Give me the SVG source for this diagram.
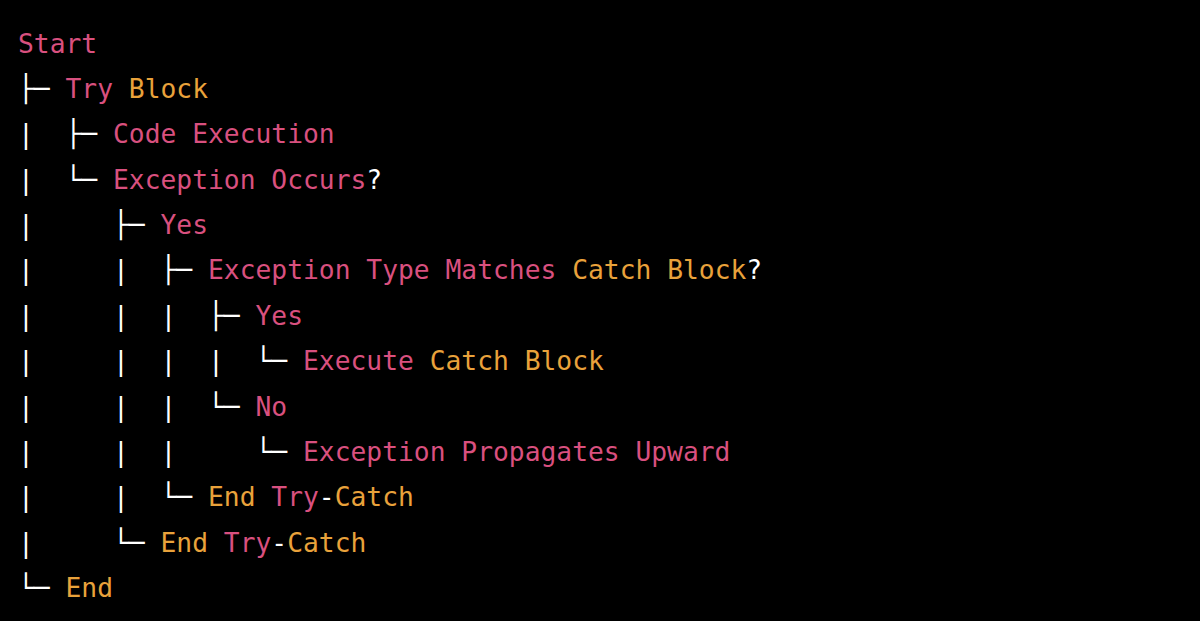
<svg xmlns="http://www.w3.org/2000/svg" width="1200" height="621" viewBox="0 0 1200 621">
<style>
text{font-family:"DejaVu Sans Mono","Liberation Mono",monospace;font-size:26.3px;white-space:pre}
.w{fill:#ffffff}.p{fill:#d9507f}.o{fill:#e9a23b}
</style>
<rect width="1200" height="621" fill="#000000"/>
<g id="tree" xml:space="preserve">
<g id="n1"><text x="18" y="52.5"><tspan class="p">Start</tspan></text></g>
<g id="n2"><text x="18" y="97.9"><tspan class="w">├─ </tspan><tspan class="p">Try</tspan><tspan class="w"> </tspan><tspan class="o">Block</tspan></text></g>
<g id="n3"><text x="18" y="143.3"><tspan class="w">|  ├─ </tspan><tspan class="p">Code Execution</tspan></text></g>
<g id="n4"><text x="18" y="188.6"><tspan class="w">|  └─ </tspan><tspan class="p">Exception Occurs</tspan><tspan class="w">?</tspan></text></g>
<g id="n5"><text x="18" y="234"><tspan class="w">|     ├─ </tspan><tspan class="p">Yes</tspan></text></g>
<g id="n6"><text x="18" y="279.4"><tspan class="w">|     |  ├─ </tspan><tspan class="p">Exception Type Matches </tspan><tspan class="o">Catch Block</tspan><tspan class="w">?</tspan></text></g>
<g id="n7"><text x="18" y="324.8"><tspan class="w">|     |  |  ├─ </tspan><tspan class="p">Yes</tspan></text></g>
<g id="n8"><text x="18" y="370.1"><tspan class="w">|     |  |  |  └─ </tspan><tspan class="p">Execute </tspan><tspan class="o">Catch Block</tspan></text></g>
<g id="n9"><text x="18" y="415.5"><tspan class="w">|     |  |  └─ </tspan><tspan class="p">No</tspan></text></g>
<g id="n10"><text x="18" y="460.9"><tspan class="w">|     |  |     └─ </tspan><tspan class="p">Exception Propagates Upward</tspan></text></g>
<g id="n11"><text x="18" y="506.3"><tspan class="w">|     |  └─ </tspan><tspan class="o">End</tspan><tspan class="w"> </tspan><tspan class="p">Try</tspan><tspan class="w">-</tspan><tspan class="o">Catch</tspan></text></g>
<g id="n12"><text x="18" y="551.6"><tspan class="w">|     └─ </tspan><tspan class="o">End</tspan><tspan class="w"> </tspan><tspan class="p">Try</tspan><tspan class="w">-</tspan><tspan class="o">Catch</tspan></text></g>
<g id="n13"><text x="18" y="597"><tspan class="w">└─ </tspan><tspan class="o">End</tspan></text></g>
</g>
</svg>
